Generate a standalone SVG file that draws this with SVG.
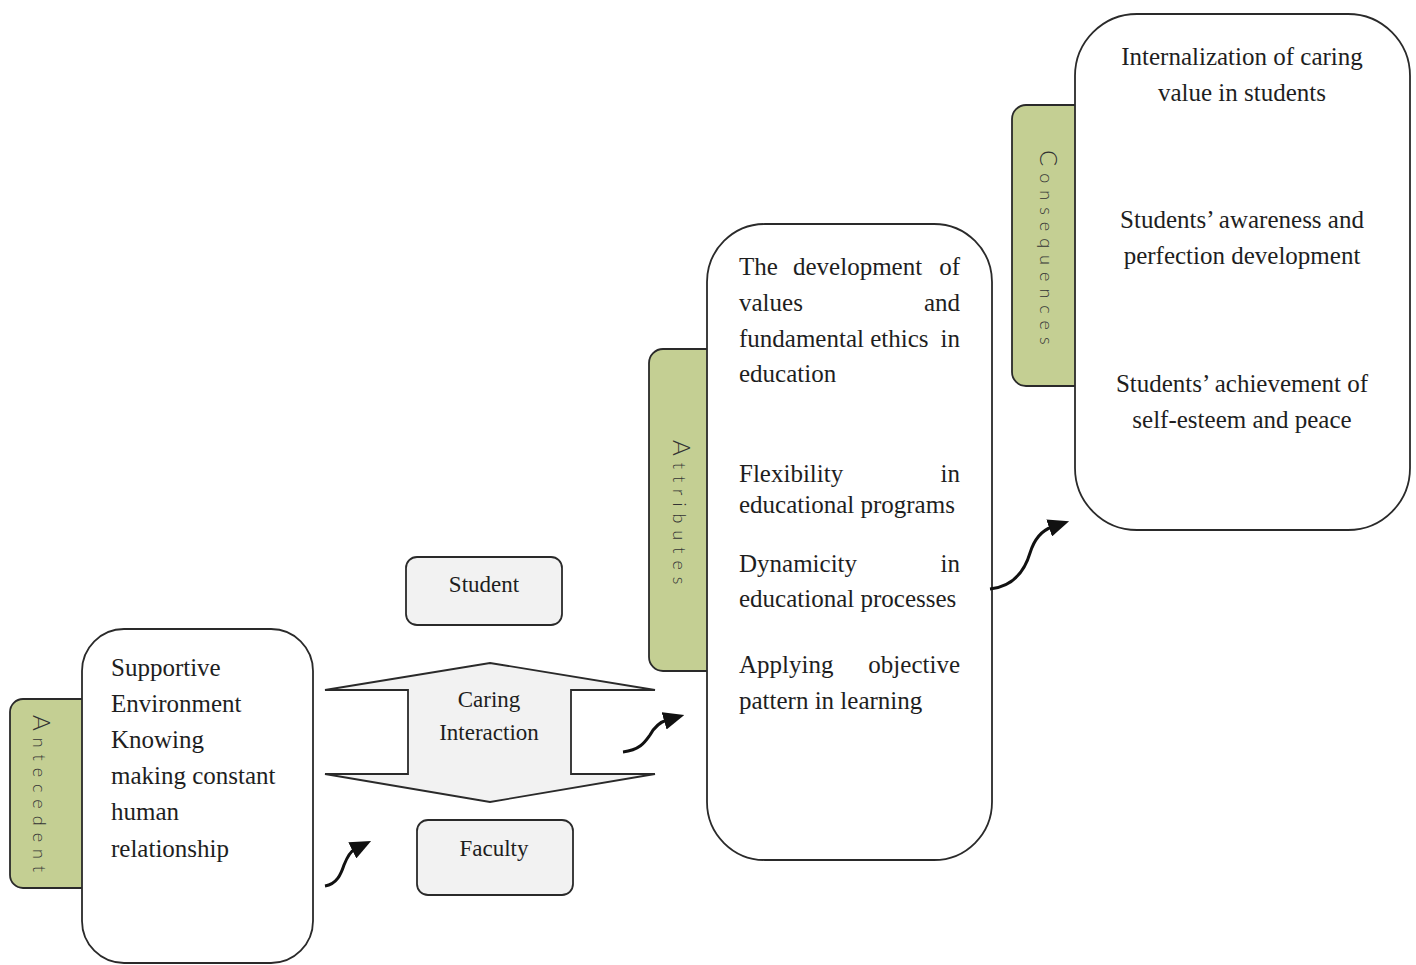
<svg xmlns="http://www.w3.org/2000/svg" width="1416" height="965" viewBox="0 0 1416 965">
<defs>
<style>
.tab{fill:#c4cf93;stroke:#2a2a2a;stroke-width:1.8}
.box{fill:#ffffff;stroke:#2a2a2a;stroke-width:1.8}
.sbox{fill:#f2f2f2;stroke:#2a2a2a;stroke-width:1.8}
.t{font-family:"Liberation Serif","Times New Roman",serif;font-size:25px;fill:#1e1e1e}
.ts{font-family:"Liberation Serif","Times New Roman",serif;font-size:23px;fill:#1e1e1e}
.v{font-family:Lato,"Open Sans","DejaVu Sans",sans-serif;font-weight:300;font-size:18px;fill:#333;letter-spacing:7px}
.cap{font-size:24px}
.arr{fill:none;stroke:#111;stroke-width:3}
</style>
<marker id="ah" markerUnits="userSpaceOnUse" markerWidth="21" markerHeight="18" refX="3" refY="9" orient="auto">
<path d="M0,0 L21,9 L0,18 z" fill="#111"/>
</marker>
</defs>
<rect width="1416" height="965" fill="#ffffff"/>

<g id="antecedent">
<rect class="tab" x="10" y="699" width="90" height="189" rx="13"/>
<rect class="box" x="82" y="629" width="231" height="334" rx="42"/>
<text class="v" transform="rotate(90 33 715)" x="33" y="715"><tspan class="cap">A</tspan>ntecedent</text>
<text class="t" x="111" y="676">Supportive</text>
<text class="t" x="111" y="712">Environment</text>
<text class="t" x="111" y="748">Knowing</text>
<text class="t" x="111" y="784">making constant</text>
<text class="t" x="111" y="820">human</text>
<text class="t" x="111" y="857">relationship</text>
</g>

<g id="student">
<rect class="sbox" x="406" y="557" width="156" height="68" rx="11"/>
<text class="ts" x="484" y="592" text-anchor="middle">Student</text>
</g>

<g id="caring-interaction">
<polygon class="sbox" points="490,663 655,690 571,690 571,774 655,774 490,802 325,774 408,774 408,690 325,690"/>
<text class="ts" x="489" y="707" text-anchor="middle">Caring</text>
<text class="ts" x="489" y="740" text-anchor="middle">Interaction</text>
</g>

<g id="faculty">
<rect class="sbox" x="417" y="820" width="156" height="75" rx="11"/>
<text class="ts" x="494" y="856" text-anchor="middle">Faculty</text>
</g>

<g id="attributes">
<rect class="tab" x="649" y="349" width="80" height="322" rx="14"/>
<rect class="box" x="707" y="224" width="285" height="636" rx="58"/>
<text class="v" transform="rotate(90 673 440)" x="673" y="440"><tspan class="cap">A</tspan>ttributes</text>
<text class="t" x="739" y="275">The</text>
<text class="t" x="793" y="275">development</text>
<text class="t" x="960" y="275" text-anchor="end">of</text>
<text class="t" x="739" y="311">values</text>
<text class="t" x="960" y="311" text-anchor="end">and</text>
<text class="t" x="739" y="347">fundamental ethics</text>
<text class="t" x="960" y="347" text-anchor="end">in</text>
<text class="t" x="739" y="382">education</text>
<text class="t" x="739" y="482">Flexibility</text>
<text class="t" x="960" y="482" text-anchor="end">in</text>
<text class="t" x="739" y="513">educational programs</text>
<text class="t" x="739" y="572">Dynamicity</text>
<text class="t" x="960" y="572" text-anchor="end">in</text>
<text class="t" x="739" y="607">educational processes</text>
<text class="t" x="739" y="673">Applying</text>
<text class="t" x="960" y="673" text-anchor="end">objective</text>
<text class="t" x="739" y="709">pattern in learning</text>
</g>

<g id="consequences">
<rect class="tab" x="1012" y="105" width="80" height="281" rx="14"/>
<rect class="box" x="1075" y="14" width="335" height="516" rx="62"/>
<text class="v" transform="rotate(90 1040 150)" x="1040" y="150"><tspan class="cap">C</tspan>onsequences</text>
<text class="t" x="1242" y="65" text-anchor="middle">Internalization of caring</text>
<text class="t" x="1242" y="101" text-anchor="middle">value in students</text>
<text class="t" x="1242" y="228" text-anchor="middle">Students’ awareness and</text>
<text class="t" x="1242" y="264" text-anchor="middle">perfection development</text>
<text class="t" x="1242" y="392" text-anchor="middle">Students’ achievement of</text>
<text class="t" x="1242" y="428" text-anchor="middle">self-esteem and peace</text>
</g>

<g id="connectors">
<path class="arr" d="M325,886 C337,884 341,874 344,865 C348,855 351,851 355,849" marker-end="url(#ah)"/>
<path class="arr" d="M623,752 C640,750 645,742 650,735 C655,726 660,722 667,720" marker-end="url(#ah)"/>
<path class="arr" d="M990,589 C1015,586 1025,570 1030,553 C1035,537 1043,530 1052,527" marker-end="url(#ah)"/>
</g>
</svg>
